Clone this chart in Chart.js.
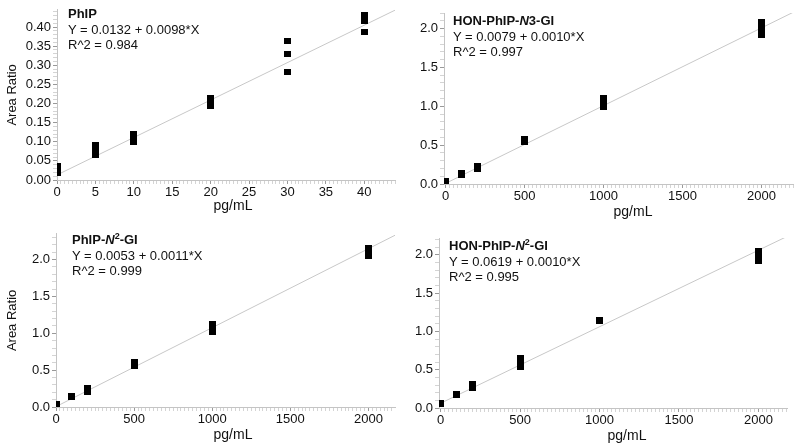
<!DOCTYPE html>
<html>
<head>
<meta charset="utf-8">
<script src="https://cdn.jsdelivr.net/npm/chart.js@4"></script>
<style>
  body { margin: 0; background: #fff; }
  #wrap { position: relative; width: 800px; height: 448px; font-family: "Liberation Sans", Arial, sans-serif; }
  canvas { position: absolute; }
  .note { position: absolute; font-size: 13px; line-height: 15.5px; color: #111; white-space: nowrap; }
  .note sup { font-size: 9px; line-height: 0; vertical-align: 5px; }
  .xt { position: absolute; font-size: 14px; color: #111; transform: translate(-50%, -50%); white-space: nowrap; }
</style>
</head>
<body>
<div id="wrap">
  <canvas id="c1" width="400" height="224" style="left:0;top:0"></canvas>
  <canvas id="c2" width="400" height="224" style="left:400px;top:0"></canvas>
  <canvas id="c3" width="400" height="224" style="left:0;top:224px"></canvas>
  <canvas id="c4" width="400" height="224" style="left:400px;top:224px"></canvas>
  <div class="note" style="left:68px;top:6px"><b>PhIP</b><br>Y = 0.0132 + 0.0098*X<br>R^2 = 0.984</div>
  <div class="note" style="left:453px;top:13px"><b>HON-PhIP-<i>N</i>3-GI</b><br>Y = 0.0079 + 0.0010*X<br>R^2 = 0.997</div>
  <div class="note" style="left:72px;top:232px"><b>PhIP-<i>N</i><sup>2</sup>-GI</b><br>Y = 0.0053 + 0.0011*X<br>R^2 = 0.999</div>
  <div class="note" style="left:449px;top:238px"><b>HON-PhIP-<i>N</i><sup>2</sup>-GI</b><br>Y = 0.0619 + 0.0010*X<br>R^2 = 0.995</div>
  <div class="xt" style="left:233px;top:205px">pg/mL</div>
  <div class="xt" style="left:633px;top:211px">pg/mL</div>
  <div class="xt" style="left:233px;top:434px">pg/mL</div>
  <div class="xt" style="left:627px;top:435px">pg/mL</div>
</div>
<script>
// PhIP (top left)
const phipX = [0, 0, 0, 5, 5, 5, 10, 10, 10, 20, 20, 20, 30, 30, 30, 40, 40, 40, 40];
const phipY = [0.017, 0.027, 0.036, 0.065, 0.078, 0.092, 0.100, 0.110, 0.120,
               0.194, 0.205, 0.215, 0.283, 0.329, 0.363, 0.388, 0.415, 0.425, 0.432];
const phipFitX = [0, 44];
const phipFitY = [0.0132, 0.444];

// HON-PhIP-N3-GI (top right)
const honN3X = [0, 0, 100, 100, 200, 200, 500, 500, 1000, 1000, 1000, 2000, 2000, 2000, 2000];
const honN3Y = [0.02, 0.03, 0.12, 0.13, 0.20, 0.23, 0.55, 0.57, 1.00, 1.05, 1.10, 1.92, 1.98, 2.03, 2.08];
const honN3FitX = [0, 2200];
const honN3FitY = [0.0079, 2.208];

// PhIP-N2-GI (bottom left)
const phipN2X = [0, 100, 200, 200, 500, 500, 1000, 1000, 1000, 2000, 2000, 2000];
const phipN2Y = [0.03, 0.14, 0.21, 0.25, 0.56, 0.60, 1.03, 1.08, 1.12, 2.06, 2.11, 2.15];
const phipN2FitX = [0, 2170];
const phipN2FitY = [0.0053, 2.33];

// HON-PhIP-N2-GI (bottom right)
const honN2X = [0, 100, 200, 200, 500, 500, 500, 1000, 2000, 2000, 2000];
const honN2Y = [0.06, 0.17, 0.27, 0.31, 0.54, 0.58, 0.64, 1.14, 1.93, 1.98, 2.05];
const honN2FitX = [0, 2180];
const honN2FitY = [0.0619, 2.24];

Chart.defaults.font.family = '"Liberation Sans", Arial, sans-serif';
Chart.defaults.color = '#111';

function square(w, h) {
  const c = document.createElement('canvas');
  c.width = w;
  c.height = h;
  const g = c.getContext('2d');
  g.fillStyle = '#000';
  g.fillRect(0, 0, w, h);
  return c;
}

function isMajor(v, step) {
  const r = v / step;
  return Math.abs(r - Math.round(r)) < 1e-6;
}

function makePanel(id, p) {
  const pts = p.x.map((v, i) => ({ x: v, y: p.y[i] }));
  const fit = p.fitX.map((v, i) => ({ x: v, y: p.fitY[i] }));
  new Chart(document.getElementById(id), {
    type: 'scatter',
    data: {
      datasets: [
        { data: pts, pointStyle: square(p.mw, p.mh), pointRadius: 4 },
        { data: fit, showLine: true, borderColor: '#c8c8c8', borderWidth: 1, pointRadius: 0 }
      ]
    },
    options: {
      responsive: false,
      animation: false,
      events: [],
      layout: { padding: p.pad },
      plugins: { legend: { display: false }, tooltip: { enabled: false } },
      scales: {
        x: {
          type: 'linear',
          min: p.xMin,
          max: p.xMax,
          afterFit: s => { s.height = p.xh; },
          border: { color: '#c4c4c4' },
          grid: {
            drawOnChartArea: false,
            tickLength: 4,
            tickColor: c => (c.tick && isMajor(c.tick.value, p.xMajor)) ? '#999' : '#d4d4d4'
          },
          ticks: {
            stepSize: p.xMinor,
            includeBounds: false,
            autoSkip: false,
            maxRotation: 0,
            padding: 1,
            font: { size: 13 },
            callback: v => isMajor(v, p.xMajor) ? String(Math.round(v)) : ''
          }
        },
        y: {
          type: 'linear',
          min: 0,
          max: p.yMax,
          afterFit: s => { s.width = p.yw; },
          border: { color: '#c4c4c4' },
          grid: {
            drawOnChartArea: false,
            tickLength: 4,
            tickColor: c => (c.tick && isMajor(c.tick.value, p.yMajor)) ? '#999' : '#d4d4d4'
          },
          ticks: {
            stepSize: p.yMinor,
            includeBounds: false,
            autoSkip: false,
            padding: 2,
            font: { size: 13 },
            callback: v => isMajor(v, p.yMajor) ? v.toFixed(p.yDec) : ''
          },
          title: { display: p.yTitle, text: 'Area Ratio', font: { size: 13 }, padding: { top: 5, bottom: 0 } }
        }
      }
    }
  });
}

makePanel('c1', {
  x: phipX, y: phipY, fitX: phipFitX, fitY: phipFitY, mw: 7, mh: 6,
  xMin: 0, xMax: 44, xMajor: 5, xMinor: 0.5,
  yMax: 0.445, yMajor: 0.05, yMinor: 0.01, yDec: 2, yTitle: true,
  yw: 57, xh: 33.4, pad: { left: 0, right: 1, top: 8, bottom: 10.6 }
});
makePanel('c2', {
  x: honN3X, y: honN3Y, fitX: honN3FitX, fitY: honN3FitY, mw: 7, mh: 7,
  xMin: -10, xMax: 2200, xMajor: 500, xMinor: 25,
  yMax: 2.2, yMajor: 0.5, yMinor: 0.1, yDec: 1, yTitle: false,
  yw: 44, xh: 35.4, pad: { left: 0, right: 7, top: 13, bottom: 4.6 }
});
makePanel('c3', {
  x: phipN2X, y: phipN2Y, fitX: phipN2FitX, fitY: phipN2FitY, mw: 7, mh: 7,
  xMin: 0, xMax: 2170, xMajor: 500, xMinor: 25,
  yMax: 2.35, yMajor: 0.5, yMinor: 0.1, yDec: 1, yTitle: true,
  yw: 56, xh: 34.4, pad: { left: 0, right: 0, top: 9, bottom: 6.6 }
});
makePanel('c4', {
  x: honN2X, y: honN2Y, fitX: honN2FitX, fitY: honN2FitY, mw: 7, mh: 7,
  xMin: -10, xMax: 2180, xMajor: 500, xMinor: 25,
  yMax: 2.22, yMajor: 0.5, yMinor: 0.1, yDec: 1, yTitle: false,
  yw: 39, xh: 35.1, pad: { left: 0, right: 13, top: 14, bottom: 4.9 }
});
</script>
</body>
</html>
